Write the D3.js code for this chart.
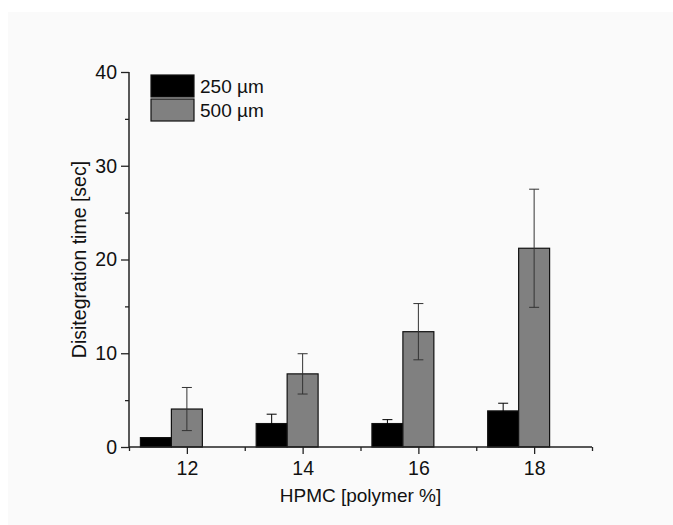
<!DOCTYPE html>
<html>
<head>
<meta charset="utf-8">
<script src="https://cdn.jsdelivr.net/npm/d3@7"></script>
<style>
  body { margin: 0; background: #fff; }
  svg { display: block; font-family: "Liberation Sans", Arial, sans-serif; }
</style>
</head>
<body>
<svg id="chart"></svg>
<script>
const categories = [12, 14, 16, 18];
const seriesNames = ["250 µm", "500 µm"];
const values250 = [1.0, 2.5, 2.5, 3.85];
const errors250 = [0, 1.0, 0.42, 0.82];
const values500 = [4.05, 7.8, 12.3, 21.2];
const errors500 = [2.3, 2.15, 3.0, 6.3];
const yTicks = [0, 10, 20, 30, 40];
const xTicks = [12, 14, 16, 18];

const dimensions = {
  width: 673,
  height: 525,
  margin: { top: 72, bottom: 78, left: 129, right: 81 }
};

const svg = d3.select("#chart")
  .attr("width", dimensions.width)
  .attr("height", dimensions.height);

// faint page panel like the scanned figure
svg.append("rect")
  .attr("x", 8).attr("y", 12)
  .attr("width", dimensions.width - 8).attr("height", dimensions.height - 12)
  .attr("fill", "#fafafa");

const innerW = dimensions.width - dimensions.margin.left - dimensions.margin.right;
const innerH = dimensions.height - dimensions.margin.top - dimensions.margin.bottom;

const g = svg.append("g")
  .attr("transform", `translate(${dimensions.margin.left},${dimensions.margin.top})`);

const xScale = d3.scaleLinear().domain([11, 19]).range([0, innerW]);
const yScale = d3.scaleLinear().domain([0, 40]).range([innerH, 0]);

const barW = 0.535; // in x units
const series = [
  { name: seriesNames[0], values: values250, errors: errors250, fill: "#000000", offset: -1.5 },
  { name: seriesNames[1], values: values500, errors: errors500, fill: "#808080", offset: -0.5 }
];

series.forEach(s => {
  const data = categories.map((c, i) => ({ c, v: s.values[i], e: s.errors[i] }));

  g.selectAll(null)
    .data(data)
    .enter()
    .append("rect")
    .attr("x", d => xScale(d.c + s.offset * barW))
    .attr("width", xScale(barW) - xScale(0))
    .attr("y", d => yScale(d.v))
    .attr("height", d => yScale(0) - yScale(d.v))
    .attr("fill", s.fill)
    .attr("stroke", "#111")
    .attr("stroke-width", 1.2);

  const errs = g.selectAll(null)
    .data(data.filter(d => d.e > 0))
    .enter()
    .append("g")
    .attr("stroke", s.fill === "#000000" ? "#000" : "#333")
    .attr("stroke-width", 1);

  const cx = d => xScale(d.c + (s.offset + 0.5) * barW);
  errs.append("line")
    .attr("x1", cx).attr("x2", cx)
    .attr("y1", d => yScale(d.v + d.e))
    .attr("y2", d => yScale(Math.max(0, d.v - d.e)));
  [1, -1].forEach(sign => {
    errs.append("line")
      .attr("x1", d => cx(d) - 5).attr("x2", d => cx(d) + 5)
      .attr("y1", d => yScale(d.v + sign * d.e))
      .attr("y2", d => yScale(d.v + sign * d.e));
  });
});

// axes
const axisY = d3.axisLeft(yScale).tickValues(yTicks).tickSize(8).tickPadding(4);
const axisYMinor = d3.axisLeft(yScale).tickValues([5, 15, 25, 35]).tickSize(4).tickFormat("");
const axisX = d3.axisBottom(xScale).tickValues(xTicks).tickSize(7).tickPadding(7).tickFormat(d3.format("d"));
const axisXMinor = d3.axisBottom(xScale).tickValues([11, 13, 15, 17, 19]).tickSize(4).tickFormat("");

function styleAxis(sel) {
  sel.select(".domain").attr("stroke", "#222").attr("stroke-width", 1.5);
  sel.selectAll(".tick line").attr("stroke", "#222").attr("stroke-width", 1.3);
  sel.selectAll(".tick text").attr("fill", "#111").style("font-size", "19.5px")
    .style("font-family", "'Liberation Sans', Arial, sans-serif");
}

g.append("g").call(axisYMinor).call(styleAxis).select(".domain").remove();
g.append("g").call(axisY).call(styleAxis).select(".domain").attr("d", `M0,${innerH}V0`);
g.append("g").attr("transform", `translate(0,${innerH})`).call(axisXMinor).call(styleAxis).select(".domain").remove();
g.append("g").attr("transform", `translate(0,${innerH})`).call(axisX).call(styleAxis)
  .select(".domain").attr("d", `M0,0H${innerW}`);

// axis titles
svg.append("text")
  .attr("x", dimensions.margin.left + innerW / 2)
  .attr("y", 502)
  .attr("text-anchor", "middle")
  .style("font-size", "19px")
  .attr("fill", "#111")
  .text("HPMC [polymer %]");

svg.append("text")
  .attr("transform", `translate(86,${dimensions.margin.top + innerH / 2}) rotate(-90)`)
  .attr("text-anchor", "middle")
  .style("font-size", "19.5px")
  .attr("fill", "#111")
  .text("Disitegration time [sec]");

// legend
const legend = svg.append("g").attr("transform", "translate(151,75)");
series.forEach((s, i) => {
  legend.append("rect")
    .attr("x", 0).attr("y", i * 24)
    .attr("width", 43).attr("height", 22)
    .attr("fill", s.fill)
    .attr("stroke", "#111").attr("stroke-width", 1.2);
  legend.append("text")
    .attr("x", 49).attr("y", i * 24 + 18)
    .style("font-size", "19px")
    .attr("fill", "#111")
    .text(s.name);
});
</script>
</body>
</html>
